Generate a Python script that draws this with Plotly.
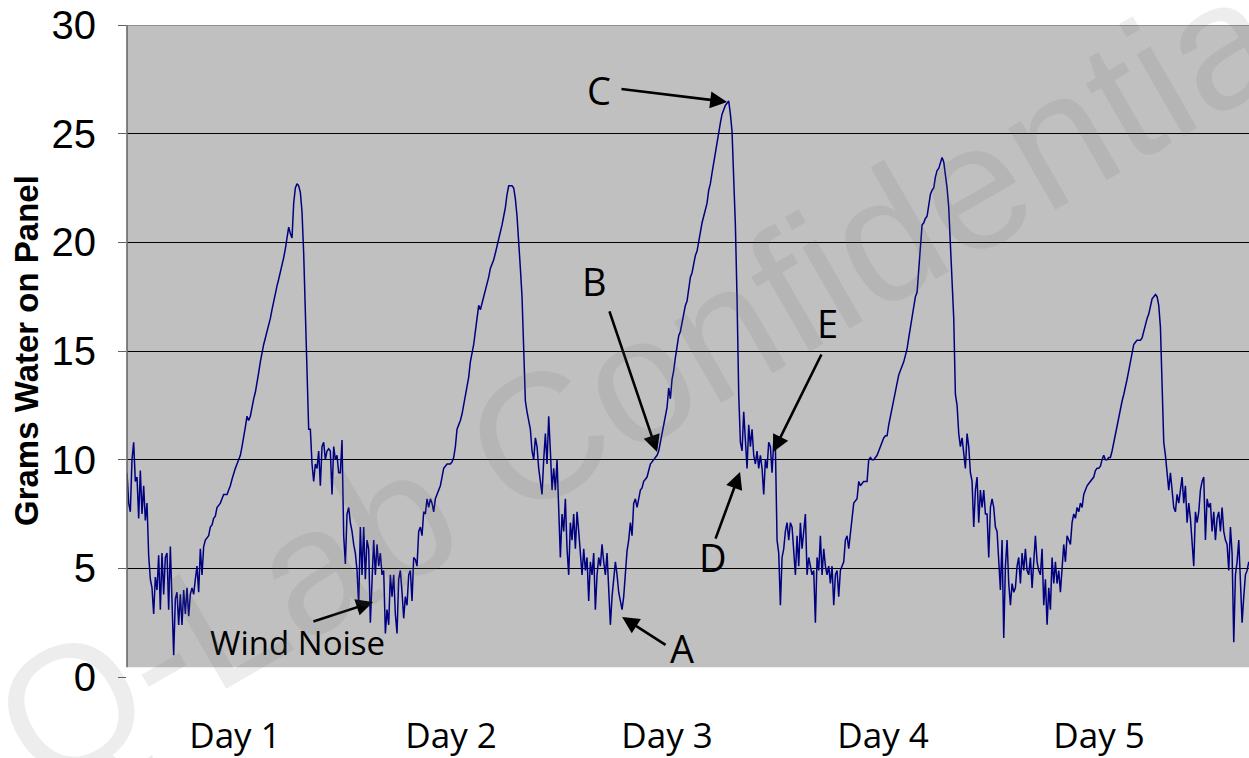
import numpy as np
import plotly.graph_objects as go

# ---------------- data (grams of water on panel, logged every ~11 min) ----------------
SAMPLES_PER_DAY = 129.6
day_labels = ["Day 1", "Day 2", "Day 3", "Day 4", "Day 5"]
day_centers = [0.5, 1.5, 2.5, 3.5, 4.5]
y_ticks = [0, 5, 10, 15, 20, 25, 30]

seg1 = [9.4, 8.0, 7.6, 10.0, 10.8, 9.0, 9.2, 7.3, 9.5, 7.5, 8.8, 7.2, 8.0, 5.6, 4.5, 4.1, 2.9, 4.6,
        4.0, 5.6, 3.1, 5.7, 3.8, 5.5, 5.7, 3.1, 6.0, 3.8, 1.0, 3.6, 3.9, 2.4, 3.8, 2.4, 4.0, 2.9,
        4.1, 2.8, 3.8, 4.1, 3.8, 4.5, 5.1, 3.9, 5.9, 4.7, 6.0, 6.3, 6.4, 6.5, 6.9, 7.0, 7.3, 7.4,
        7.8, 7.9, 8.0, 8.2, 8.4, 8.4, 8.4, 8.6, 8.8, 9.1, 9.4, 9.6, 9.8, 10.0, 10.2, 10.6, 11.0,
        11.5, 12.0, 11.8, 12.0, 12.5, 12.8, 13.1, 13.5, 14.0, 14.5, 15.0, 15.3, 15.6, 15.9, 16.1,
        16.5, 16.9, 17.3, 17.7, 18.0, 18.3, 18.6, 18.9, 19.3, 19.7, 20.2, 20.7]
seg2 = [20.4, 20.2, 21.8, 22.5, 22.7, 22.6, 22.3, 21.4, 19.5, 16.5, 13.5, 11.4, 11.4, 9.8, 9.0,
        9.8, 9.6, 10.4, 8.8, 10.6, 10.8, 10.0, 10.4, 10.5, 10.4, 8.4, 10.6, 10.0, 10.2, 9.4, 9.4,
        10.9, 6.5, 5.2, 7.5, 7.8, 7.1, 6.7, 6.1, 5.7, 4.9, 3.3, 6.9, 4.7, 6.9, 4.5, 6.3, 5.9, 2.5,
        4.1, 6.3, 4.7, 6.1, 5.1, 5.7, 4.7, 4.9, 2.0, 3.1, 2.4, 4.7, 3.7, 4.7, 2.9, 2.0, 4.5, 4.9,
        3.9, 2.7, 3.7, 3.3, 4.7, 4.9, 3.5, 5.5, 5.4, 5.1, 6.7, 6.9, 6.5, 7.6, 7.5, 8.2, 7.8, 8.2,
        8.0, 7.6, 8.2, 8.4, 8.6, 8.8, 9.2, 9.6, 9.7, 9.8, 9.8, 9.8, 9.9, 10.1, 10.6, 11.4, 11.6,
        11.8, 12.1, 12.5, 12.9, 13.3, 13.8, 14.5, 14.9, 15.3, 15.9, 16.5, 17.1]
seg3 = [16.9, 17.2, 17.4, 17.7, 18.0, 18.4, 18.8, 19.0, 19.2, 19.5, 19.8, 20.1, 20.4, 20.8, 21.2,
        21.6, 22.2, 22.6, 22.6, 22.6, 22.5, 22.0, 21.2, 20.2, 18.8, 17.5, 14.9, 12.7, 12.2, 11.8,
        11.4, 10.4, 10.0, 11.0, 10.6, 9.6, 9.0, 8.4, 10.0, 11.2, 9.8, 12.0, 10.4, 8.6, 9.6, 8.6,
        10.0, 7.3, 5.5, 7.5, 6.7, 8.2, 5.9, 4.7, 7.1, 6.3, 7.5, 5.9, 7.6, 6.7, 5.5, 4.7, 5.9, 4.9,
        5.5, 3.5, 5.3, 4.7, 5.7, 3.1, 4.7, 5.5, 5.1, 6.1, 5.3, 4.7, 5.7, 4.1, 2.4, 3.7, 4.5, 5.3,
        4.7, 3.9, 3.5, 3.1, 3.7, 4.7, 5.8, 6.3, 7.1, 6.5, 8.0, 8.2, 7.8, 8.2, 8.6, 8.7, 9.0, 9.1,
        9.2, 9.5, 9.8, 9.9, 10.0, 10.1, 10.2, 10.4, 10.8, 11.2, 11.6, 12.0, 12.4, 13.3]
seg4 = [12.8, 13.7, 14.1, 14.7, 15.3, 15.7, 15.9, 16.3, 16.7, 17.1, 17.3, 17.8, 18.4, 18.6, 19.0,
        19.4, 19.6, 20.1, 20.6, 20.9, 21.2, 21.5, 21.8, 22.4, 22.7, 23.2, 23.7, 24.2, 24.5, 25.0,
        25.5, 25.9, 26.1, 26.3, 26.4, 26.5, 25.9, 25.1, 22.9, 20.8, 17.4, 13.0, 10.8, 10.4, 12.2,
        10.7, 9.6, 11.6, 10.6, 11.4, 10.2, 9.8, 10.4, 9.6, 10.2, 9.6, 8.4, 10.0, 9.6, 10.8, 10.6,
        9.4, 10.8, 10.6, 6.3, 5.7, 3.3, 5.5, 5.9, 6.7, 7.1, 6.3, 7.1, 6.9, 5.5, 4.7, 6.5, 5.1, 7.1,
        5.9, 6.7, 7.5, 4.7, 5.5, 5.1, 4.7, 4.9, 2.5, 5.5, 4.9, 6.5, 4.7, 5.9, 5.1, 4.7, 5.1, 4.3,
        5.1, 3.3, 4.7, 4.9, 3.7, 4.9, 5.1, 5.3, 6.3, 6.5, 5.9, 6.5, 7.3, 8.0, 8.1, 8.2, 9.0]
seg5 = [8.8, 8.9, 9.0, 9.0, 9.0, 10.0, 10.1, 10.0, 10.0, 10.1, 10.2, 10.4, 10.6, 10.8, 11.0, 11.1,
        11.1, 11.6, 12.0, 12.4, 12.7, 13.1, 13.5, 13.9, 14.1, 14.3, 14.5, 14.8, 15.1, 15.6, 16.1,
        16.7, 17.1, 17.5, 17.7, 18.8, 19.8, 20.8, 20.9, 21.1, 21.2, 21.8, 22.2, 22.4, 22.5, 23.0,
        23.3, 23.4, 23.7, 23.9, 23.7, 23.1, 22.5, 21.6, 20.0, 18.4, 16.5, 13.0, 12.5, 11.2, 10.6,
        11.0, 10.4, 9.6, 11.2, 10.6, 9.4, 9.0, 6.9, 8.6, 9.2, 7.1, 8.6, 7.8, 8.6, 7.5, 7.5, 5.5,
        7.8, 8.2, 7.8, 6.9, 6.7, 5.1, 4.0, 6.3, 1.8, 5.1, 6.3, 4.3, 3.3, 4.3, 3.9, 4.1, 5.1, 5.5,
        4.3, 5.7, 4.9, 5.9, 4.9, 4.7, 5.5, 4.1, 5.3, 6.5, 5.3, 4.9, 4.7, 5.9, 3.3, 4.5, 2.4, 4.1]
seg6 = [3.1, 5.5, 4.3, 5.3, 4.3, 4.9, 3.9, 4.9, 6.1, 5.3, 6.5, 6.3, 6.1, 7.1, 7.5, 7.3, 7.8, 7.6,
        8.0, 7.8, 8.4, 8.6, 8.8, 8.9, 9.0, 9.1, 9.2, 9.5, 9.6, 9.6, 9.7, 10.0, 10.2, 10.0, 10.0,
        10.1, 10.1, 10.4, 10.8, 11.2, 11.6, 12.0, 12.4, 12.7, 13.0, 13.3, 13.7, 14.1, 14.5, 14.9,
        15.3, 15.4, 15.5, 15.5, 15.5, 15.6, 15.9, 16.3, 16.5, 16.7, 17.1, 17.4, 17.5, 17.6, 17.5,
        17.1, 16.1, 13.7, 10.8, 10.2, 9.4, 8.6, 9.4, 8.4, 7.8, 7.6, 8.4, 8.0, 8.6, 9.2, 8.0, 8.8,
        7.1, 8.0, 7.3, 6.1, 5.1, 7.6, 7.1, 7.6, 8.6, 9.0, 9.2, 6.3, 8.2, 7.8, 8.0, 6.7, 7.6, 6.3,
        7.3, 7.6, 6.7, 7.8, 6.7, 6.3, 6.1, 4.9, 6.9, 5.7, 1.6, 4.7, 5.3, 6.3, 4.5, 2.5, 3.7, 4.7,
        4.9, 5.3]

grams = np.array(seg1 + seg2 + seg3 + seg4 + seg5 + seg6)
days = np.arange(len(grams)) / SAMPLES_PER_DAY

# annotation labels: (text, text_x, text_y, tail_x, tail_y, tip_x, tip_y)
callouts = [
    ("C", 2.185, 27.0, 2.282, 27.06, 2.778, 26.46),
    ("B", 2.162, 18.2, 2.231, 16.89, 2.454, 10.35),
    ("E", 3.245, 16.3, 3.218, 14.91, 2.991, 10.35),
    ("D", 2.713, 5.5, 2.722, 6.30, 2.838, 9.43),
    ("A", 2.569, 1.35, 2.500, 1.43, 2.292, 2.76),
]
wind = ("Wind Noise", 0.787, 1.61, 0.856, 2.53, 1.139, 3.45)

x_max = 5.194
y_floor = 0.45

fig = go.Figure()
fig.add_trace(go.Scatter(x=days, y=grams, mode="lines",
                         line=dict(color="#000080", width=1.5), hoverinfo="skip",
                         showlegend=False))

# grey plot area (ends just above zero, as in the original) and the left axis line
fig.add_shape(type="rect", xref="paper", yref="y", x0=0, x1=1, y0=y_floor, y1=30,
              fillcolor="#C0C0C0", line=dict(width=0), layer="below")
fig.add_shape(type="line", xref="paper", yref="y", x0=0, x1=0, y0=y_floor, y1=30,
              line=dict(color="#606060", width=1.5), layer="above")
fig.add_shape(type="line", xref="paper", yref="y", x0=0, x1=1, y0=30, y1=30,
              line=dict(color="#808080", width=1.5), layer="above")

annots = []
for txt, tx, ty, ax, ay, px, py in callouts:
    annots.append(dict(x=px, y=py, ax=ax, ay=ay, xref="x", yref="y", axref="x", ayref="y",
                       text="", showarrow=True, arrowhead=2, arrowsize=1.3, arrowwidth=2.6,
                       arrowcolor="black", standoff=0, startstandoff=0))
    annots.append(dict(x=tx, y=ty, xref="x", yref="y", text=txt, showarrow=False,
                       font=dict(family="Open Sans", size=38, color="black")))
txt, tx, ty, ax, ay, px, py = wind
annots.append(dict(x=px, y=py, ax=ax, ay=ay, xref="x", yref="y", axref="x", ayref="y",
                   text="", showarrow=True, arrowhead=2, arrowsize=1.3, arrowwidth=2.6,
                   arrowcolor="black", standoff=0, startstandoff=0))
annots.append(dict(x=tx, y=ty, xref="x", yref="y", text=txt, showarrow=False,
                   font=dict(family="Open Sans", size=33, color="black")))

# y-axis title
annots.append(dict(xref="paper", yref="paper", x=0, y=0.5, xshift=-101, xanchor="center",
                   yanchor="middle", text="<b>Grams Water on Panel</b>",
                   textangle=-90, showarrow=False,
                   font=dict(family="Liberation Sans, Arial", size=33, color="black")))
# watermark
annots.append(dict(xref="paper", yref="paper", x=0.47, y=0.47, xanchor="center",
                   yanchor="middle", text="Q-Lab Confidential",
                   textangle=-30, showarrow=False,
                   font=dict(family="Liberation Sans, Arial", size=178,
                             color="rgba(110,110,110,0.12)")))

fig.update_layout(
    width=1249, height=758, autosize=False,
    margin=dict(l=127, r=0, t=25, b=81, autoexpand=False),
    paper_bgcolor="white", plot_bgcolor="white",
    annotations=annots,
    xaxis=dict(range=[0, x_max], tickvals=day_centers, ticktext=day_labels, showgrid=False,
               zeroline=False, showline=False, ticks="", ticklabelstandoff=35, automargin=False,
               tickfont=dict(family="Open Sans", size=35, color="black")),
    yaxis=dict(range=[0, 30], tickvals=y_ticks, showgrid=True, gridcolor="black", gridwidth=1,
               zeroline=False, showline=False, ticks="outside", ticklen=8, tickcolor="#606060",
               ticklabelstandoff=14, automargin=False,
               tickfont=dict(family="Liberation Sans, Arial", size=40, color="black")),
)

fig.write_html("out.html", config={"displayModeBar": False},
               post_script="document.body.style.margin='0px';")
